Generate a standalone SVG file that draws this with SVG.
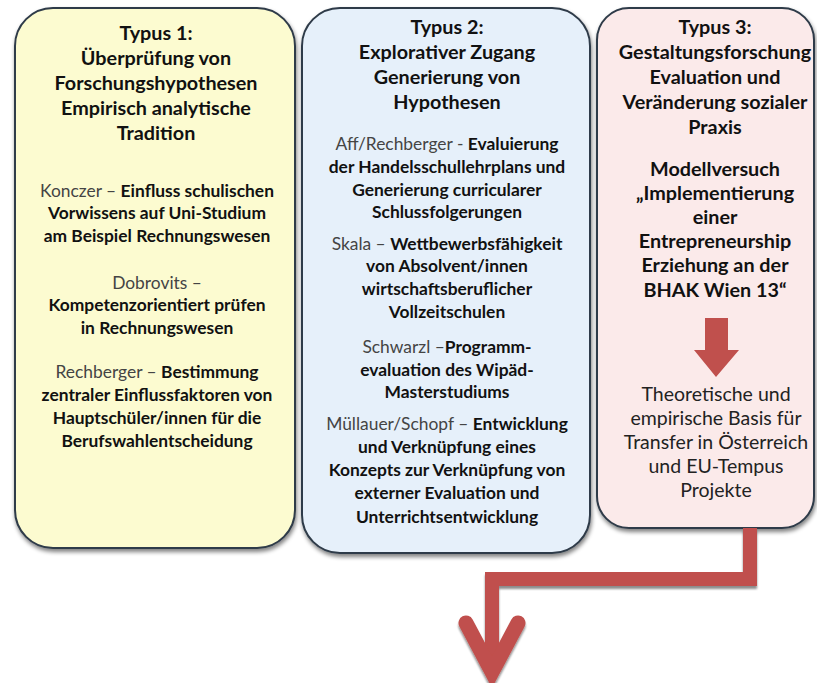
<svg xmlns="http://www.w3.org/2000/svg" width="817" height="683" viewBox="0 0 817 683">
<style>
text{font-family:Lato,"Open Sans","Liberation Sans",sans-serif;text-anchor:middle;fill:#111}
.t{font-size:19.8px;font-weight:bold}
.b{font-size:17.4px}
.n{font-weight:normal;fill:#444}
.k{font-weight:bold;fill:#111}
.p{font-size:19.5px;fill:#222}
.box{stroke:#2f3b48;stroke-width:2;filter:url(#sh)}
.red{fill:#c0504d}
</style>
<defs>
<filter id="sh" x="-10%" y="-10%" width="120%" height="120%">
<feGaussianBlur in="SourceAlpha" stdDeviation="2"/>
<feOffset dx="1" dy="3" result="o"/>
<feComponentTransfer><feFuncA type="linear" slope="0.5"/></feComponentTransfer>
<feMerge><feMergeNode/><feMergeNode in="SourceGraphic"/></feMerge>
</filter>
<filter id="ash" x="-10%" y="-10%" width="120%" height="130%">
<feGaussianBlur in="SourceAlpha" stdDeviation="1"/>
<feOffset dx="0" dy="3"/>
<feComponentTransfer><feFuncA type="linear" slope="0.45"/></feComponentTransfer>
<feMerge><feMergeNode/><feMergeNode in="SourceGraphic"/></feMerge>
</filter>
</defs>
<rect width="817" height="683" fill="#fff"/>
<g id="typ1">
<rect class="box" x="15" y="8" width="280" height="540" rx="38" fill="#fcfbd0"/>
<text class="t"><tspan x="156" y="40">Typus 1:</tspan><tspan x="156" y="65">Überprüfung von</tspan><tspan x="156" y="90">Forschungshypothesen</tspan><tspan x="156" y="115">Empirisch analytische</tspan><tspan x="156" y="140">Tradition</tspan></text>
<text class="b" x="157" y="197"><tspan class="n">Konczer – </tspan><tspan class="k">Einfluss schulischen</tspan></text>
<text class="b k"><tspan x="157" y="219">Vorwissens auf Uni-Studium</tspan><tspan x="157" y="242">am Beispiel Rechnungswesen</tspan></text>
<text class="b n" x="157" y="289">Dobrovits –</text>
<text class="b k"><tspan x="157" y="311">Kompetenzorientiert prüfen</tspan><tspan x="157" y="334">in Rechnungswesen</tspan></text>
<text class="b" x="157" y="378"><tspan class="n">Rechberger – </tspan><tspan class="k">Bestimmung</tspan></text>
<text class="b k"><tspan x="157" y="401">zentraler Einflussfaktoren von</tspan><tspan x="157" y="424">Hauptschüler/innen für die</tspan><tspan x="157" y="447">Berufswahlentscheidung</tspan></text>
</g>
<g id="typ2">
<rect class="box" x="302" y="8" width="288" height="545" rx="38" fill="#e6f0fa"/>
<text class="t"><tspan x="447" y="34">Typus 2:</tspan><tspan x="447" y="59">Explorativer Zugang</tspan><tspan x="447" y="84">Generierung von</tspan><tspan x="447" y="109">Hypothesen</tspan></text>
<text class="b" x="447" y="150"><tspan class="n">Aff/Rechberger - </tspan><tspan class="k">Evaluierung</tspan></text>
<text class="b k"><tspan x="447" y="173">der Handelsschullehrplans und</tspan><tspan x="447" y="196">Generierung curricularer</tspan><tspan x="447" y="218">Schlussfolgerungen</tspan></text>
<text class="b" x="447" y="250"><tspan class="n">Skala – </tspan><tspan class="k">Wettbewerbsfähigkeit</tspan></text>
<text class="b k"><tspan x="447" y="272">von Absolvent/innen</tspan><tspan x="447" y="295">wirtschaftsberuflicher</tspan><tspan x="447" y="318">Vollzeitschulen</tspan></text>
<text class="b" x="447" y="353"><tspan class="n">Schwarzl –</tspan><tspan class="k">Programm-</tspan></text>
<text class="b k"><tspan x="447" y="376">evaluation des Wipäd-</tspan><tspan x="447" y="398">Masterstudiums</tspan></text>
<text class="b" x="447" y="430"><tspan class="n">Müllauer/Schopf – </tspan><tspan class="k">Entwicklung</tspan></text>
<text class="b k"><tspan x="447" y="453">und Verknüpfung eines</tspan><tspan x="447" y="476">Konzepts zur Verknüpfung von</tspan><tspan x="447" y="499">externer Evaluation und</tspan><tspan x="447" y="523">Unterrichtsentwicklung</tspan></text>
</g>
<g id="typ3">
<rect class="box" x="597" y="8" width="217" height="520" rx="32" fill="#fbeaea"/>
<text class="t"><tspan x="715" y="34">Typus 3:</tspan><tspan x="715" y="59">Gestaltungsforschung</tspan><tspan x="715" y="84">Evaluation und</tspan><tspan x="715" y="109">Veränderung sozialer</tspan><tspan x="715" y="134">Praxis</tspan></text>
<text class="t"><tspan x="715" y="176">Modellversuch</tspan><tspan x="715" y="200">„Implementierung</tspan><tspan x="715" y="224">einer</tspan><tspan x="715" y="248">Entrepreneurship</tspan><tspan x="715" y="272">Erziehung an der</tspan><tspan x="715" y="297">BHAK Wien 13“</tspan></text>
<polygon class="red" points="705,318 728,318 728,350 739,350 716,377 694,350 705,350"/>
<text class="p"><tspan x="716" y="401">Theoretische und</tspan><tspan x="716" y="425">empirische Basis für</tspan><tspan x="716" y="449">Transfer in Österreich</tspan><tspan x="716" y="473">und EU-Tempus</tspan><tspan x="716" y="497">Projekte</tspan></text>
</g>
<g id="connectors" fill="none" stroke="#c0504d" filter="url(#ash)">
<path d="M750,528 V579 H492 V672" stroke-width="14" stroke-linejoin="miter"/>
<polyline points="466,623 492,672 518,623" stroke-width="15" stroke-linecap="round" stroke-linejoin="miter"/>
</g>
</svg>
